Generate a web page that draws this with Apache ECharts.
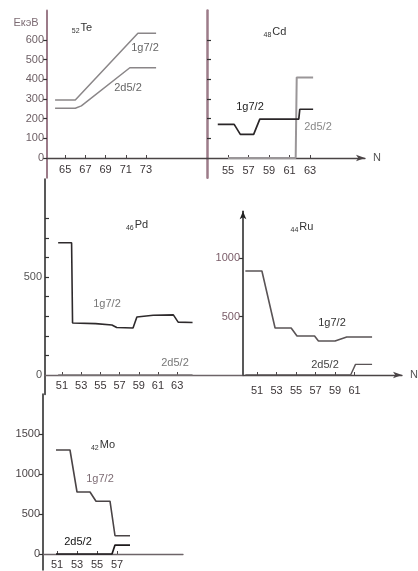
<!DOCTYPE html>
<html><head><meta charset="utf-8">
<script src="https://cdn.jsdelivr.net/npm/echarts@6/dist/echarts.min.js"></script>
<style>html,body{margin:0;padding:0;background:#fff}#c{width:418px;height:571px}</style>
</head><body><div id="c"></div><script>
const FONT = '"Liberation Sans","Arimo",sans-serif';

// Level energies E (keV) of the 1g7/2 and 2d5/2 states against neutron number N
// 52Te
const teNTicks = [65, 67, 69, 71, 73];
const teETicks = [0, 100, 200, 300, 400, 500, 600];
const teG7 = [[64, 295], [66, 295], [72.2, 634], [74, 634]];
const teD5 = [[64, 253], [66, 253], [66.6, 265], [71.4, 459], [74, 459]];
// 48Cd
const cdNTicks = [55, 57, 59, 61, 63];
const cdETicks = [100, 200, 300, 400, 500, 600];
const cdG7 = [[54, 171], [55.6, 171], [56.2, 120], [57.5, 120], [58.1, 198], [61.9, 198], [62, 248], [63.3, 248]];
const cdD5 = [[55, 0], [61.6, 0], [61.7, 410], [63.3, 410]];
// 46Pd
const pdNTicks = [51, 53, 55, 57, 59, 61, 63];
const pdETicks = [100, 200, 300, 400, 500, 600, 700, 800];
const pdELabels = [0, 500];
const pdG7 = [[50.6, 675], [52.0, 675], [52.1, 265], [54.5, 262], [56.2, 255], [56.7, 242], [58.4, 240], [58.8, 296], [60.5, 305], [62.6, 307], [63.1, 270], [64.6, 268]];
const pdD5 = [[50.6, 0], [64.6, 0]];
// 44Ru
const ruNTicks = [51, 53, 55, 57, 59, 61];
const ruETicks = [500, 1000];
const ruG7 = [[49.8, 889], [51.5, 889], [52.85, 402], [54.5, 402], [55.1, 333], [56.9, 333], [57.3, 291], [59, 291], [60.2, 325], [62.8, 325]];
const ruD5 = [[49.8, 0], [60.6, 0], [61.1, 91], [62.8, 91]];
// 42Mo
const moNTicks = [51, 53, 55, 57];
const moETicks = [0, 500, 1000, 1500];
const moG7 = [[50.9, 1300], [52.3, 1300], [53.0, 775], [54.3, 775], [54.9, 660], [56.3, 660], [56.8, 228], [58.3, 228]];
const moD5 = [[50.9, 0], [56.5, 0], [56.8, 112], [58.3, 112]];

const AX = '#4a4446';
const PINK = '#9c7b89';

function xAxis(gi, min, max, ticks, opts) {
  opts = opts || {};
  return {
    type: 'value', gridIndex: gi, min: min, max: max,
    splitLine: { show: false },
    axisLine: { onZero: true, lineStyle: { color: opts.lineColor || AX, width: 1.3 },
      symbol: opts.arrow ? ['none', 'arrow'] : 'none', symbolSize: [5, 9] },
    axisTick: { show: true, inside: true, length: 3, customValues: ticks, lineStyle: { color: AX } },
    axisLabel: { customValues: ticks, margin: opts.margin, fontFamily: FONT, fontSize: 11, color: '#3c3638',
      formatter: v => String(v) },
    name: opts.name || '', nameLocation: 'end', nameGap: 8,
    nameTextStyle: { fontFamily: FONT, fontSize: 11, color: '#555' }
  };
}
function yAxis(gi, min, max, ticks, labels, opts) {
  opts = opts || {};
  return {
    type: 'value', gridIndex: gi, min: min, max: max,
    splitLine: { show: false },
    axisLine: { show: true, lineStyle: { color: opts.lineColor || '#222', width: opts.lineWidth || 1.5 },
      symbol: opts.arrow ? ['none', 'arrow'] : 'none', symbolSize: [5, 8] },
    axisTick: { show: true, inside: !!opts.inside, length: 4, customValues: ticks, lineStyle: { color: '#333', width: 1.2 } },
    axisLabel: { show: labels.length > 0, customValues: labels, margin: 3, fontFamily: FONT, fontSize: 11,
      color: opts.labelColor || '#6e6066', formatter: v => String(v) }
  };
}
function line(gi, data, color, width, z) {
  return {
    type: 'line', xAxisIndex: gi, yAxisIndex: gi, data: data, showSymbol: false,
    lineStyle: { color: color, width: width || 1.6 }, z: z || 3, silent: true, animation: false
  };
}
function txt(x, y, text, color, size, weight) {
  return { type: 'text', x: x, y: y, style: { text: text, fill: color || '#555', font: (weight || 'normal') + ' ' + (size || 11) + 'px ' + FONT, textAlign: 'center', textVerticalAlign: 'middle' } };
}
function nucl(x, y, z, sym) {
  return { type: 'text', x: x, y: y, style: {
    text: '{s|' + z + '}{n|' + sym + '}', textAlign: 'center', textVerticalAlign: 'middle',
    rich: { s: { fontFamily: FONT, fontSize: 7, fill: '#333', verticalAlign: 'bottom', padding: [6, 1, 0, 0] },
            n: { fontFamily: FONT, fontSize: 11, fill: '#333' } } } };
}

const option = {
  backgroundColor: '#fff',
  animation: false,
  grid: [
    { left: 47, top: 10.5, width: 160, height: 167.2, outerBoundsMode: 'none' },
    { left: 207, top: 10.5, width: 158, height: 167.2, outerBoundsMode: 'none' },
    { left: 45, top: 179, width: 198, height: 215.6, outerBoundsMode: 'none' },
    { left: 243, top: 211.2, width: 159, height: 163.8, outerBoundsMode: 'none' },
    { left: 43, top: 394, width: 140, height: 176, outerBoundsMode: 'none' }
  ],
  xAxis: [
    xAxis(0, 63.2, 79.04, teNTicks, { margin: -13 }),
    xAxis(1, 52.95, 68.36, cdNTicks, { arrow: true, name: 'N', margin: -12 }),
    xAxis(2, 49.23, 69.855, pdNTicks, { lineColor: '#6d6468', margin: -14 }),
    xAxis(3, 49.56, 65.87, ruNTicks, { arrow: true, name: 'N', margin: 10 }),
    xAxis(4, 49.6, 63.6, moNTicks, { lineColor: '#6d6468', margin: -11 })
  ],
  yAxis: [
    yAxis(0, -100, 750, teETicks, teETicks, { lineColor: PINK, lineWidth: 2 }),
    yAxis(1, -100, 750, cdETicks, [], { lineColor: PINK, lineWidth: 2.5, inside: true }),
    yAxis(2, -100, 1000, pdETicks, pdELabels, { inside: true, labelColor: '#555' }),
    yAxis(3, 0, 1400, ruETicks, ruETicks, { arrow: true, labelColor: '#7a5c68' }),
    yAxis(4, -200, 2000, moETicks, moETicks, { labelColor: '#4a4446' })
  ],
  series: [
    line(0, teG7, '#8a8688', 1.5),
    line(0, teD5, '#8a8688', 1.5),
    line(1, cdD5, '#9a9698', 2, 3),
    line(1, cdG7, '#2a2628', 1.7, 4),
    line(2, pdD5, '#7a7476', 1.4),
    line(2, pdG7, '#2e2a2c', 1.6),
    line(3, ruD5, '#5a5456', 1.4),
    line(3, ruG7, '#5a5456', 1.6),
    line(4, moD5, '#1e1a1c', 1.7),
    line(4, moG7, '#4a4446', 1.6)
  ],
  graphic: [
    txt(26, 23, 'EкэВ', '#7d6c74', 11),
    nucl(82, 28, '52', 'Te'),
    nucl(275, 32, '48', 'Cd'),
    nucl(137, 225, '46', 'Pd'),
    nucl(302, 227, '44', 'Ru'),
    nucl(103, 445, '42', 'Mo'),
    txt(145, 48, '1g7/2', '#666', 11),
    txt(128, 88, '2d5/2', '#666', 11),
    txt(250, 107, '1g7/2', '#222', 11),
    txt(318, 127, '2d5/2', '#888', 11),
    txt(107, 304, '1g7/2', '#777', 11),
    txt(175, 363, '2d5/2', '#777', 11),
    txt(332, 323, '1g7/2', '#333', 11),
    txt(325, 365, '2d5/2', '#444', 11),
    txt(100, 479, '1g7/2', '#7d6c74', 11),
    txt(78, 542, '2d5/2', '#111', 11)
  ]
};
echarts.init(document.getElementById('c'), null, { renderer: 'canvas' }).setOption(option);
</script></body></html>
